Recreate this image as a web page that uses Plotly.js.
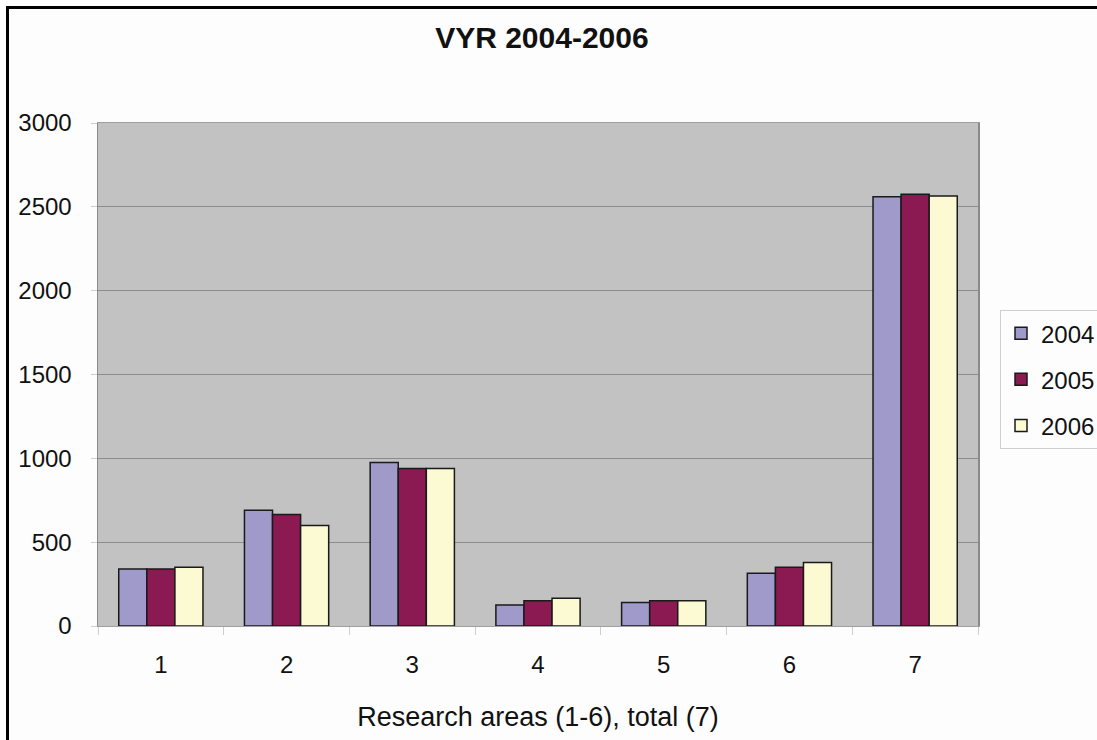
<!DOCTYPE html>
<html>
<head>
<meta charset="utf-8">
<script src="https://cdn.plot.ly/plotly-3.0.1.min.js"></script>
<style>
  html, body { margin: 0; padding: 0; background: #fdfdfd; }
  #chart { width: 1097px; height: 740px; position: relative; }
  #frame { position: absolute; left: 6px; top: 6px; width: 2000px; height: 2000px;
           border-left: 3px solid #000; border-top: 3px solid #000; pointer-events: none; }
  #wrap { position: relative; width: 1097px; height: 740px; overflow: hidden; }
</style>
</head>
<body>
<div id="wrap">
  <div id="chart"></div>
  <div id="frame"></div>
</div>
<script>
const categories = ["1", "2", "3", "4", "5", "6", "7"];
const seriesNames = ["2004", "2005", "2006"];
const values2004 = [340, 690, 975, 125, 140, 315, 2560];
const values2005 = [340, 665, 940, 150, 150, 350, 2575];
const values2006 = [350, 600, 940, 165, 150, 378, 2565];
const yTicks = [0, 500, 1000, 1500, 2000, 2500, 3000];

const colors = ["#a09acb", "#8b1a52", "#fbfad3"];
const allValues = [values2004, values2005, values2006];

const traces = allValues.map((vals, i) => ({
  type: "bar",
  name: seriesNames[i],
  x: categories,
  y: vals,
  marker: { color: colors[i], line: { color: "#1a1a1a", width: 1.5 } },
  legendgroup: "g" + i,
  hoverinfo: "x+y+name"
}));

const FAM = "Liberation Sans, Arial, sans-serif";
const font = { family: FAM, color: "#111", size: 24 };

const layout = {
  width: 1097,
  height: 740,
  margin: { l: 98, r: 119, t: 123, b: 114, autoexpand: false },
  paper_bgcolor: "#fdfdfd",
  plot_bgcolor: "#c3c2c2",
  font: font,
  barmode: "group",
  bargap: 0.33,
  bargroupgap: 0,
  showlegend: true,
  title: {
    text: "<b>VYR 2004-2006</b>",
    font: { family: FAM, size: 30, color: "#111" },
    x: 0.494, xref: "container", xanchor: "center",
    y: 0.95, yref: "container", yanchor: "middle"
  },
  xaxis: {
    type: "category",
    tickvals: categories,
    ticktext: categories,
    ticks: "outside",
    tickson: "boundaries",
    ticklen: 8,
    tickcolor: "#cfcfcf",
    ticklabelstandoff: 17,
    showline: true,
    linecolor: "#a0a0a0",
    linewidth: 1,
    mirror: true,
    showgrid: false,
    tickfont: font,
    title: { text: "Research areas (1-6), total (7)", font: { family: FAM, color: "#111", size: 27 }, standoff: 30 }
  },
  yaxis: {
    range: [0, 3000],
    tickvals: yTicks,
    ticktext: yTicks.map(String),
    ticks: "outside",
    ticklen: 6,
    tickcolor: "#cfcfcf",
    ticklabelstandoff: 14,
    showline: true,
    linecolor: "#8a8a8a",
    linewidth: 1.5,
    mirror: true,
    showgrid: true,
    gridcolor: "#8c8c8c",
    gridwidth: 1,
    zeroline: false,
    tickfont: font
  },
  legend: {
    x: 1.025, xanchor: "left",
    y: 0.49, yanchor: "middle",
    bgcolor: "#fdfdfd",
    bordercolor: "#cfcfcf",
    borderwidth: 1,
    font: font,
    traceorder: "grouped",
    tracegroupgap: 12
  }
};

Plotly.newPlot("chart", traces, layout, { displayModeBar: false, staticPlot: true });
</script>
</body>
</html>
